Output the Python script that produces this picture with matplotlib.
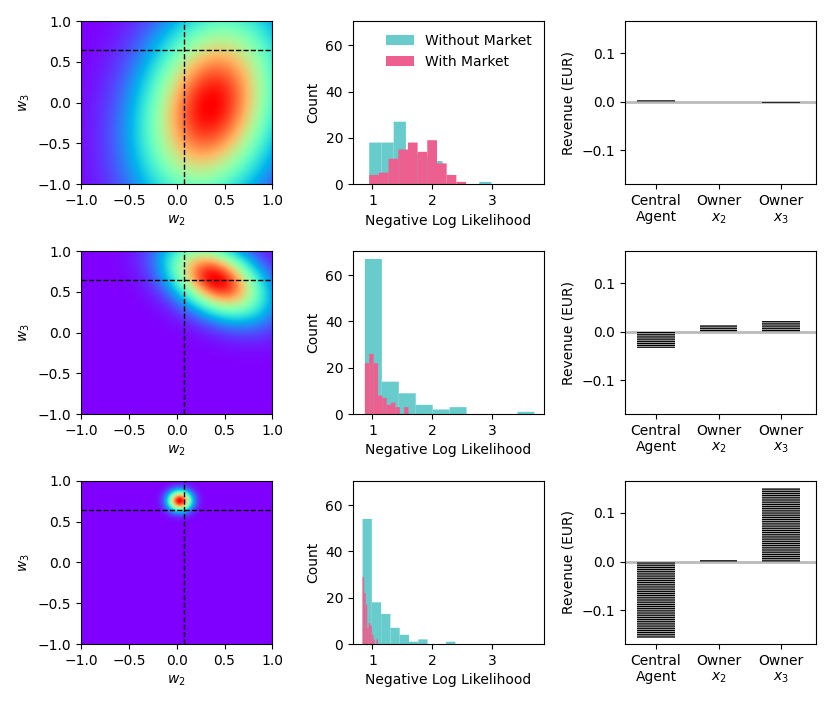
import numpy as np
import matplotlib
matplotlib.use("Agg")
import matplotlib.pyplot as plt

# posterior over (w2, w3) for each row: mean, std devs, correlation
post_mean = [(0.35, -0.05), (0.41, 0.64), (0.03, 0.75)]
post_std = [(0.50, 0.80), (0.34, 0.31), (0.085, 0.085)]
post_rho = [0.22, -0.4, 0.0]
true_w2 = 0.08
true_w3 = 0.65

# histograms of negative log likelihood (100 samples each)
nll_without_range = [(0.945, 2.99), (0.873, 3.707), (0.834, 2.386)]
nll_without_counts = [
    [18, 18, 27, 13, 12, 10, 1, 0, 0, 1],
    [67, 14, 9, 4, 2, 3, 0, 0, 0, 1],
    [54, 18, 13, 7, 4, 1, 2, 0, 0, 1],
]
nll_with_range = [(0.945, 2.564), (0.873, 1.602), (0.834, 1.09)]
nll_with_counts = [
    [4, 5, 11, 15, 18, 14, 19, 9, 4, 1],
    [22, 26, 22, 8, 7, 4, 5, 3, 0, 3],
    [29, 22, 17, 7, 9, 8, 4, 2, 0, 2],
]

# revenue per participant
agents = ["Central\nAgent", "Owner\n$x_2$", "Owner\n$x_3$"]
revenue = [
    [0.004, -0.001, -0.002],
    [-0.0335, 0.0143, 0.021],
    [-0.157, 0.004, 0.152],
]

col_without = "#68cccc"
col_with = "#ec5f8e"

plt.rcParams["hatch.linewidth"] = 0.9

fig, axes = plt.subplots(3, 3, figsize=(8.3, 7.06), dpi=100)
fig.subplots_adjust(left=0.0976, right=0.983, bottom=0.0878, top=0.970,
                    wspace=0.42, hspace=0.41)

g = np.linspace(-1, 1, 300)
X, Y = np.meshgrid(g, g)

for i in range(3):
    # heatmap of posterior density
    ax = axes[i, 0]
    mx, my = post_mean[i]
    sx, sy = post_std[i]
    r = post_rho[i]
    dx = (X - mx) / sx
    dy = (Y - my) / sy
    z = np.exp(-(dx**2 - 2 * r * dx * dy + dy**2) / (2 * (1 - r**2)))
    ax.imshow(z, extent=(-1, 1, -1, 1), origin="lower", cmap="rainbow",
              aspect="auto")
    ax.axvline(true_w2, color="k", ls="--", lw=1)
    ax.axhline(true_w3, color="k", ls="--", lw=1)
    ax.set_xticks([-1, -0.5, 0, 0.5, 1])
    ax.set_yticks([-1, -0.5, 0, 0.5, 1])
    ax.set_xlabel("$w_2$")
    ax.set_ylabel("$w_3$")

    # histograms
    ax = axes[i, 1]
    c0 = np.array(nll_without_counts[i])
    e0 = np.linspace(*nll_without_range[i], len(c0) + 1)
    ax.hist(e0[:-1], bins=e0, weights=c0, color=col_without,
            label="Without Market", snap=False)
    c1 = np.array(nll_with_counts[i])
    e1 = np.linspace(*nll_with_range[i], len(c1) + 1)
    ax.hist(e1[:-1], bins=e1, weights=c1, color=col_with,
            label="With Market", snap=False)
    ax.set_xlim(0.67, 3.87)
    ax.set_ylim(0, 70.4)
    ax.set_xticks([1, 2, 3])
    ax.set_yticks([0, 20, 40, 60])
    ax.set_xlabel("Negative Log Likelihood")
    ax.set_ylabel("Count")
    if i == 0:
        ax.legend(loc="upper right", frameon=False)

    # revenue bars
    ax = axes[i, 2]
    ax.axhline(0, color="#bbbbbb", lw=2, zorder=0.5)
    ax.bar(range(len(agents)), revenue[i], width=0.6, color="white",
           edgecolor="black", linewidth=0, hatch="-" * 9)
    ax.set_xlim(-0.505, 2.555)
    ax.set_ylim(-0.17, 0.166)
    ax.set_xticks(range(len(agents)))
    ax.set_xticklabels(agents)
    ax.set_yticks([-0.1, 0, 0.1])
    ax.set_ylabel("Revenue (EUR)")

fig.savefig("out.png", dpi=100)
